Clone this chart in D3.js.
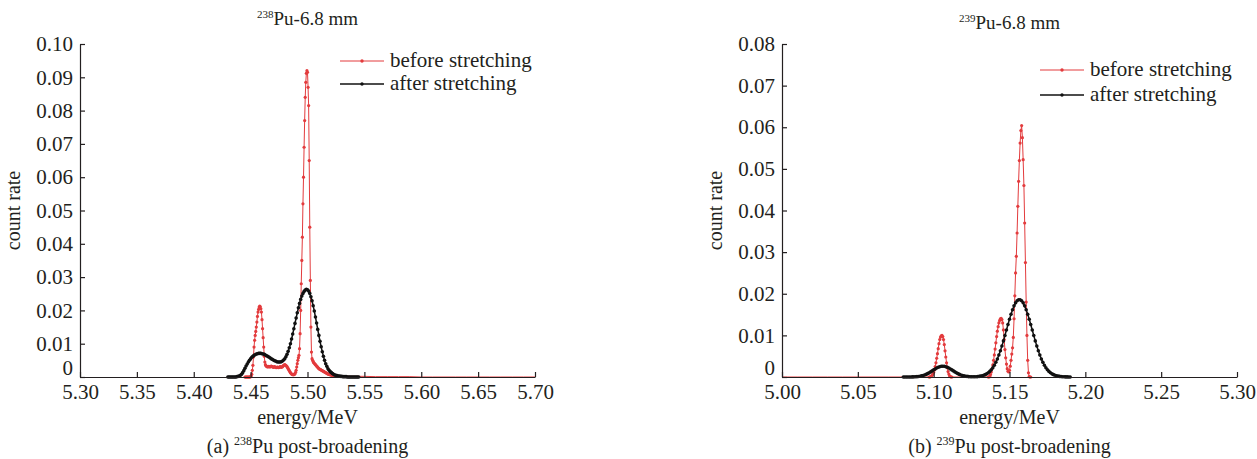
<!DOCTYPE html>
<html>
<head>
<meta charset="utf-8">
<script src="https://cdn.jsdelivr.net/npm/d3@7"></script>
<style>
  body { margin: 0; background: #fff; }
  text { font-family: "Liberation Serif", "Times New Roman", serif; fill: #231f20; }
</style>
</head>
<body>
<div id="chart"></div>
<script>
// ---- data: count rate spectra, energies in MeV ----
// (a) 238Pu
var xTicksA = [5.30, 5.35, 5.40, 5.45, 5.50, 5.55, 5.60, 5.65, 5.70];
var yTicksA = [0, 0.01, 0.02, 0.03, 0.04, 0.05, 0.06, 0.07, 0.08, 0.09, 0.10];

// before stretching, 0.5 keV bins from 5.445 MeV
var redAStart = 5.445, redAStep = 0.0005;
var redA = [
  0, 0, 0, 0, 0, 0, 0, 0, 0, 0,
  0.0001, 0.0003, 0.0008, 0.0020, 0.0035, 0.0060, 0.0090, 0.0110, 0.0125, 0.0137,
  0.0150, 0.0165, 0.0182, 0.0195, 0.0203, 0.0210, 0.0213, 0.0211, 0.0205, 0.0195,
  0.0172, 0.0145, 0.0118, 0.0090, 0.0062, 0.0045, 0.0037, 0.0034, 0.0032, 0.0031,
  0.0030, 0.0031, 0.0032, 0.0031, 0.0030, 0.0031, 0.0033, 0.0032, 0.0031, 0.0030,
  0.0029, 0.0030, 0.0031, 0.0030, 0.0029, 0.0028, 0.0029, 0.0030, 0.0029, 0.0028,
  0.0029, 0.0030, 0.0031, 0.0030, 0.0029, 0.0030, 0.0031, 0.0033, 0.0035, 0.0036,
  0.0037, 0.0036, 0.0035, 0.0033, 0.0031, 0.0028, 0.0025, 0.0022, 0.0019, 0.0016,
  0.0013, 0.0011, 0.0009, 0.0008, 0.0007, 0.0007, 0.0007, 0.0008, 0.0010, 0.0014,
  0.0020, 0.0030, 0.0040, 0.0050, 0.0058, 0.0065, 0.0085, 0.0130, 0.0200, 0.0280,
  0.0350, 0.0420, 0.0520, 0.0600, 0.0690, 0.0770, 0.0840, 0.0885, 0.0912, 0.0920,
  0.0915, 0.0870, 0.0815, 0.0650, 0.0450, 0.0290, 0.0150, 0.0075, 0.0055, 0.0050,
  0.0046, 0.0043, 0.0041, 0.0039, 0.0037, 0.0035, 0.0033, 0.0031, 0.0029, 0.0027,
  0.0025, 0.0024, 0.0023, 0.0022, 0.0021, 0.0020, 0.0019, 0.0018, 0.0017, 0.0016,
  0.0015, 0.0014, 0.0013, 0.0012, 0.0011, 0.0010, 0.0009, 0.0008, 0.0008, 0.0007,
  0.0007, 0.0006, 0.0006, 0.0005, 0.0005, 0.0005, 0.0004, 0.0004, 0.0004, 0.0003,
  0.0003
];
// faint tail of the red curve, 10 keV steps from 5.53 MeV
var redATailStart = 5.53, redATailStep = 0.01;
var redATail = [0.0003, 0.0002, 0.0002, 0.0001, 0.0001, 0.0001, 0.0001, 0, 0, 0, 0, 0, 0, 0, 0, 0, 0, 0];

// after stretching, 1 keV bins from 5.430 MeV
var blackAStart = 5.430, blackAStep = 0.001;
var blackA = [
  0, 0, 0, 0, 0, 0, 0, 0, 0.0001, 0.0002,
  0.0003, 0.0005, 0.0008, 0.0013, 0.0019, 0.0026, 0.0033, 0.0039, 0.0045, 0.0050,
  0.0055, 0.0059, 0.0062, 0.0065, 0.0067, 0.0069, 0.0070, 0.0071, 0.0071, 0.0071,
  0.0070, 0.0069, 0.0068, 0.0066, 0.0064, 0.0062, 0.0060, 0.0058, 0.0055, 0.0053,
  0.0051, 0.0049, 0.0048, 0.0046, 0.0045, 0.0045, 0.0045, 0.0046, 0.0048, 0.0051,
  0.0055, 0.0061, 0.0068, 0.0077, 0.0088, 0.0100, 0.0114, 0.0129, 0.0145, 0.0161,
  0.0177, 0.0193, 0.0208, 0.0221, 0.0233, 0.0243, 0.0251, 0.0257, 0.0261, 0.0263,
  0.0262, 0.0258, 0.0251, 0.0241, 0.0229, 0.0214, 0.0198, 0.0180, 0.0162, 0.0143,
  0.0125, 0.0107, 0.0091, 0.0076, 0.0062, 0.0050, 0.0040, 0.0032, 0.0025, 0.0020,
  0.0016, 0.0013, 0.0010, 0.0008, 0.0006, 0.0005, 0.0004, 0.0003, 0.0003, 0.0002,
  0.0002, 0.0001, 0.0001, 0.0001, 0.0001, 0, 0, 0, 0, 0,
  0, 0, 0, 0, 0, 0
];

// (b) 239Pu
var xTicksB = [5.00, 5.05, 5.10, 5.15, 5.20, 5.25, 5.30];
var yTicksB = [0, 0.01, 0.02, 0.03, 0.04, 0.05, 0.06, 0.07, 0.08];

// before stretching: flat head, then two 0.5 keV segments
var redBHeadStart = 5.00, redBHeadStep = 0.01;
var redBHead = [0, 0, 0, 0, 0, 0, 0, 0, 0, 0];
var redB1Start = 5.097, redB1Step = 0.0005;
var redB1 = [
  0, 0, 0.0001, 0.0002, 0.0004, 0.0007, 0.0011, 0.0017, 0.0025, 0.0034,
  0.0045, 0.0056, 0.0068, 0.0080, 0.0090, 0.0096, 0.0099, 0.0100, 0.0097, 0.0090,
  0.0078, 0.0063, 0.0048, 0.0034, 0.0022, 0.0013, 0.0007, 0.0003, 0.0001, 0,
  0
];
var redB2Start = 5.136, redB2Step = 0.0005;
var redB2 = [
  0, 0, 0.0002, 0.0006, 0.0012, 0.0020, 0.0029, 0.0040, 0.0053, 0.0067,
  0.0082, 0.0097, 0.0110, 0.0121, 0.0130, 0.0136, 0.0140, 0.0141, 0.0138, 0.0130,
  0.0113, 0.0090, 0.0066, 0.0046, 0.0031, 0.0020, 0.0014, 0.0012, 0.0016, 0.0026,
  0.0040, 0.0055, 0.0070, 0.0095, 0.0140, 0.0195, 0.0250, 0.0290, 0.0346, 0.0410,
  0.0470, 0.0520, 0.0562, 0.0592, 0.0604, 0.0575, 0.0522, 0.0460, 0.0370, 0.0275,
  0.0180, 0.0100, 0.0040, 0.0010, 0.0001, 0, 0
];

// after stretching, 1 keV bins from 5.080 MeV
var blackBStart = 5.080, blackBStep = 0.001;
var blackB = [
  0, 0, 0, 0, 0, 0.00001, 0.00002, 0.00004, 0.00006, 0.00009,
  0.00013, 0.00018, 0.00026, 0.00035, 0.00047, 0.00062, 0.0008, 0.0010, 0.00122, 0.00146,
  0.0017, 0.00193, 0.00215, 0.00234, 0.00248, 0.00257, 0.0026, 0.00257, 0.00248, 0.00234,
  0.00215, 0.00193, 0.0017, 0.00146, 0.00122, 0.0010, 0.0008, 0.00062, 0.00047, 0.00035,
  0.00026, 0.00019, 0.00014, 0.0001, 0.00007, 0.00006, 0.00005, 0.00006, 0.00007, 0.0001,
  0.00014, 0.00021, 0.00029, 0.00041, 0.00056, 0.00076, 0.00102, 0.00134, 0.00174, 0.00224,
  0.00283, 0.00353, 0.00434, 0.00527, 0.00631, 0.00745, 0.00867, 0.00996, 0.01128, 0.01261,
  0.01389, 0.01509, 0.01617, 0.01709, 0.01781, 0.01831, 0.01857, 0.01857, 0.01831, 0.01781,
  0.01709, 0.01617, 0.01509, 0.01389, 0.01261, 0.01128, 0.00996, 0.00867, 0.00745, 0.00631,
  0.00527, 0.00434, 0.00353, 0.00283, 0.00224, 0.00174, 0.00134, 0.00102, 0.00076, 0.00056,
  0.00041, 0.00029, 0.00021, 0.00014, 0.0001, 0.00007, 0.00005, 0.00003, 0.00002, 0.00001,
  0
];

var legendLabels = ["before stretching", "after stretching"];

// ---- helpers ----
function toPoints(start, step, values) {
  return values.map(function (v, i) {
    return { e: +(start + i * step).toFixed(5), v: v };
  });
}

var redColor = "#e33b3d";
var blackColor = "#111111";
var fontStack = '"Liberation Serif", "Times New Roman", serif';

var svgWidth = 1257;
var svgHeight = 459;

var svg = d3.select("#chart")
  .append("svg")
  .attr("width", svgWidth)
  .attr("height", svgHeight);

var panels = [
  {
    left: 80, right: 535, top: 44, bottom: 377,
    xDomain: [5.30, 5.70], xTicks: xTicksA,
    yDomain: [0, 0.10], yTicks: yTicksA,
    titleSup: "238", titleY: 25, captionTag: "(a) ",
    redLine: toPoints(redAStart, redAStep, redA).concat(toPoints(redATailStart, redATailStep, redATail)),
    redDots: toPoints(redAStart, redAStep, redA),
    black: toPoints(blackAStart, blackAStep, blackA),
    legendX: 340, legendY: 61, legendGap: 23
  },
  {
    left: 782, right: 1237, top: 44, bottom: 377,
    xDomain: [5.00, 5.30], xTicks: xTicksB,
    yDomain: [0, 0.08], yTicks: yTicksB,
    titleSup: "239", titleY: 29, captionTag: "(b) ",
    redLine: toPoints(redBHeadStart, redBHeadStep, redBHead)
      .concat(toPoints(redB1Start, redB1Step, redB1))
      .concat(toPoints(redB2Start, redB2Step, redB2)),
    redDots: toPoints(redB1Start, redB1Step, redB1).concat(toPoints(redB2Start, redB2Step, redB2)),
    black: toPoints(blackBStart, blackBStep, blackB),
    legendX: 1040, legendY: 70, legendGap: 25
  }
];

panels.forEach(function (p) {
  var x = d3.scaleLinear().domain(p.xDomain).range([p.left, p.right]);
  var y = d3.scaleLinear().domain(p.yDomain).range([p.bottom, p.top]);
  var cx = (p.left + p.right) / 2;
  var g = svg.append("g");

  var line = d3.line()
    .x(d => x(d.e))
    .y(d => y(d.v));

  // before stretching (red)
  g.append("path")
    .datum(p.redLine)
    .attr("d", line)
    .attr("fill", "none")
    .attr("stroke", redColor)
    .attr("stroke-width", 1);

  g.selectAll(".rdot")
    .data(p.redDots)
    .enter()
    .append("circle")
    .attr("class", "rdot")
    .attr("cx", d => x(d.e))
    .attr("cy", d => y(d.v))
    .attr("r", 1.6)
    .attr("fill", redColor);

  // after stretching (black)
  g.append("path")
    .datum(p.black)
    .attr("d", line)
    .attr("fill", "none")
    .attr("stroke", blackColor)
    .attr("stroke-width", 1.5);

  g.selectAll(".bdot")
    .data(p.black)
    .enter()
    .append("circle")
    .attr("class", "bdot")
    .attr("cx", d => x(d.e))
    .attr("cy", d => y(d.v))
    .attr("r", 1.8)
    .attr("fill", blackColor);

  // axes, ticks pointing inward
  var yAxis = d3.axisLeft(y)
    .tickValues(p.yTicks)
    .tickSizeInner(-5)
    .tickSizeOuter(0)
    .tickPadding(7)
    .tickFormat(d => d === 0 ? "0" : d3.format(".2f")(d));

  var xAxis = d3.axisBottom(x)
    .tickValues(p.xTicks)
    .tickSizeInner(-5)
    .tickSizeOuter(0)
    .tickPadding(7)
    .tickFormat(d3.format(".2f"));

  var ya = g.append("g")
    .attr("transform", `translate(${p.left},0)`)
    .call(yAxis);
  var xa = g.append("g")
    .attr("transform", `translate(0,${p.bottom})`)
    .call(xAxis);

  [ya, xa].forEach(function (a) {
    a.selectAll("path, line").attr("stroke", "#231f20").attr("stroke-width", 1.2);
    a.selectAll("text")
      .style("font-family", fontStack)
      .style("font-size", "21px")
      .attr("fill", "#231f20");
  });
  // keep the "0" label just above the first x tick label
  ya.selectAll(".tick text").filter(d => d === 0).attr("dy", "-0.1em");

  // title
  var t = g.append("text")
    .attr("x", cx)
    .attr("y", p.titleY)
    .attr("text-anchor", "middle")
    .style("font-size", "19px");
  t.append("tspan").attr("font-size", "11px").attr("dy", "-7").text(p.titleSup);
  t.append("tspan").attr("dy", "7").text("Pu-6.8 mm");

  // axis titles
  g.append("text")
    .attr("x", cx)
    .attr("y", 424)
    .attr("text-anchor", "middle")
    .style("font-size", "20px")
    .text("energy/MeV");

  g.append("text")
    .attr("transform", `translate(${p.left - 60},${(p.top + p.bottom) / 2}) rotate(-90)`)
    .attr("text-anchor", "middle")
    .style("font-size", "20px")
    .text("count rate");

  // caption
  var c = g.append("text")
    .attr("x", cx)
    .attr("y", 453)
    .attr("text-anchor", "middle")
    .style("font-size", "20px");
  c.append("tspan").text(p.captionTag);
  c.append("tspan").attr("font-size", "12px").attr("dy", "-8").text(p.titleSup);
  c.append("tspan").attr("dy", "8").text("Pu post-broadening");

  // legend
  [redColor, blackColor].forEach(function (col, i) {
    var ly = p.legendY + i * p.legendGap;
    g.append("line")
      .attr("x1", p.legendX).attr("x2", p.legendX + 44)
      .attr("y1", ly).attr("y2", ly)
      .attr("stroke", col)
      .attr("stroke-width", i === 0 ? 1 : 1.5);
    g.append("circle")
      .attr("cx", p.legendX + 22).attr("cy", ly)
      .attr("r", 1.7)
      .attr("fill", col);
    g.append("text")
      .attr("x", p.legendX + 50)
      .attr("y", ly + 6)
      .style("font-size", "21px")
      .text(legendLabels[i]);
  });
});
</script>
</body>
</html>
